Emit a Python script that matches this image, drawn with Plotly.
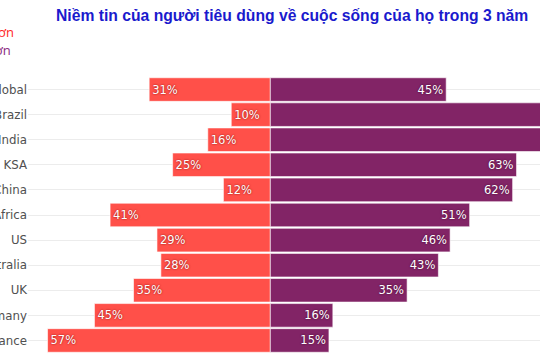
import plotly.graph_objects as go

categories = ["Global", "Brazil", "India", "KSA", "China", "South Africa", "US",
              "Australia", "UK", "Germany", "France"]
better = [31, 10, 16, 25, 12, 41, 29, 28, 35, 45, 57]
worse = [45, 80, 78, 63, 62, 51, 46, 43, 35, 16, 15]
better_label = "Tốt hơn"
worse_label = "Tệ hơn"
red_color = "#FF5049"
purple_color = "#822466"
title_text = "Niềm tin của người tiêu dùng về cuộc sống của họ trong 3 năm"
x_range = [-62, 69]

fig = go.Figure()
fig.add_trace(go.Bar(
    y=categories, x=[-v for v in better], orientation="h",
    name=better_label, showlegend=False,
    marker=dict(color=red_color, line=dict(color="rgba(255,255,255,0.6)", width=1)),
    text=[f"{v}%" for v in better], textposition="inside", insidetextanchor="end",
    textfont=dict(family="DejaVu Sans", size=11.5, color="white",
                  shadow="0px 0px 2px rgba(120,0,0,0.9)"),
))
fig.add_trace(go.Bar(
    y=categories, x=worse, orientation="h",
    name=worse_label, showlegend=False,
    marker=dict(color=purple_color, line=dict(color="rgba(255,255,255,0.6)", width=1)),
    text=[f"{v}%" if v < x_range[1] else "" for v in worse],
    textposition="inside", insidetextanchor="end",
    textfont=dict(family="DejaVu Sans", size=11.5, color="white",
                  shadow="0px 0px 2px rgba(60,0,40,0.9)"),
))

# legend-like labels (partly outside the left edge, as in the reference)
fig.add_annotation(text=better_label, xref="paper", yref="paper",
                   x=-12 / 512, y=1 + 45 / 276, xanchor="right", yanchor="middle",
                   showarrow=False, font=dict(family="Open Sans", size=13, color="#FF1E1E"))
fig.add_annotation(text=worse_label, xref="paper", yref="paper",
                   x=-15 / 512, y=1 + 27 / 276, xanchor="right", yanchor="middle",
                   showarrow=False, font=dict(family="Open Sans", size=13, color="#8A2A80"))

fig.update_layout(
    template="none",
    width=540, height=360,
    margin=dict(l=28, r=0, t=77, b=7),
    barmode="relative",
    bargap=0.06,
    paper_bgcolor="white", plot_bgcolor="white",
    title=dict(text=f"<b>{title_text}</b>", x=0.541, xref="container", xanchor="center",
               y=0.958, yref="container", yanchor="middle",
               font=dict(family="Liberation Sans, Arial", size=15.7, color="#1A1ACD")),
    showlegend=False,
    xaxis=dict(range=x_range, showticklabels=False, showgrid=False, zeroline=False,
               showline=False, automargin=False, fixedrange=True),
    yaxis=dict(autorange="reversed", showgrid=True, gridcolor="#ECECEC", gridwidth=1,
               zeroline=False, showline=False, ticks="", automargin=False,
               tickfont=dict(family="DejaVu Sans", size=11.8, color="#505050")),
)
fig.write_html("out.html", config={"displayModeBar": False},
               post_script="document.body.style.margin='0';document.body.style.overflow='hidden';")
